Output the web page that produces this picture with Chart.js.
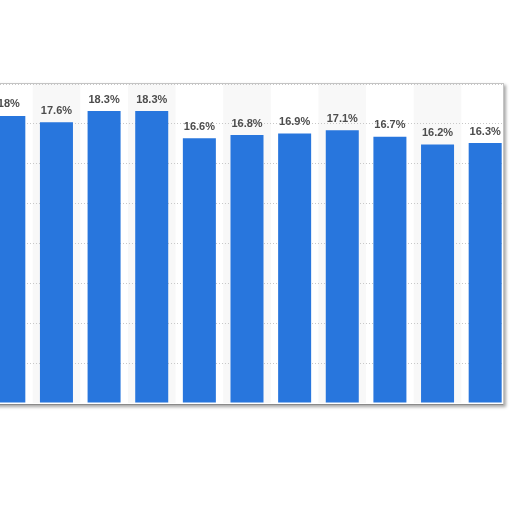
<!DOCTYPE html>
<html>
<head>
<meta charset="utf-8">
<script src="https://cdn.jsdelivr.net/npm/chart.js@4/dist/chart.umd.min.js"></script>
<style>
  html, body { margin: 0; padding: 0; background: #fff; width: 512px; height: 512px; overflow: hidden; }
  #frame {
    position: absolute; left: -20px; top: 83px; width: 524px; height: 322px;
    box-sizing: border-box; border: 1px solid #c4c4c4; border-bottom-color: #8a8a8a;
    box-shadow: 2px 2px 3px rgba(0,0,0,0.35); overflow: hidden; background: #fff;
  }
  #wrap { position: absolute; left: 4px; top: 0px; width: 524px; height: 319px; }
</style>
</head>
<body>
<div id="frame"><div id="wrap"><canvas id="shareChart"></canvas></div></div>
<script>
// categories are not shown in the crop; placeholders keep the order
const categories = ['c1', 'c2', 'c3', 'c4', 'c5', 'c6', 'c7', 'c8', 'c9', 'c10', 'c11'];
const shareValues = [18, 17.6, 18.3, 18.3, 16.6, 16.8, 16.9, 17.1, 16.7, 16.2, 16.3];

const stripes = {
  id: 'stripes',
  beforeDraw(chart) {
    const { ctx, chartArea, scales } = chart;
    const band = chartArea.width / categories.length;
    ctx.save();
    ctx.fillStyle = '#f8f8f8';
    categories.forEach((c, i) => {
      if (i % 2 === 1) {
        const x = scales.x.getPixelForValue(i);
        ctx.fillRect(x - band / 2, chartArea.top, band, chartArea.height);
      }
    });
    ctx.restore();
  }
};

const valueLabels = {
  id: 'valueLabels',
  afterDatasetsDraw(chart) {
    const { ctx } = chart;
    const meta = chart.getDatasetMeta(0);
    ctx.save();
    ctx.font = 'bold 11px "Liberation Sans", Arial, sans-serif';
    ctx.fillStyle = '#4d4d4d';
    ctx.textAlign = 'center';
    ctx.textBaseline = 'bottom';
    meta.data.forEach((bar, i) => {
      ctx.fillText(shareValues[i] + '%', bar.x, bar.y - 6);
    });
    ctx.restore();
  }
};

document.addEventListener('DOMContentLoaded', () => {
  const ctx = document.getElementById('shareChart').getContext('2d');
  new Chart(ctx, {
    type: 'bar',
    data: {
      labels: categories,
      datasets: [{
        data: shareValues,
        backgroundColor: '#2876dd',
        barPercentage: 0.693,
        categoryPercentage: 1
      }]
    },
    options: {
      responsive: true,
      maintainAspectRatio: false,
      animation: false,
      layout: { padding: 0 },
      plugins: { legend: { display: false }, tooltip: { enabled: false } },
      scales: {
        x: { display: false },
        y: {
          min: 0,
          max: 20,
          ticks: { display: false, stepSize: 2.5 },
          border: { display: false, dash: [1, 2] },
          grid: { color: '#c8c8c8', lineWidth: 1, drawTicks: false, tickLength: 0 }
        }
      }
    },
    plugins: [stripes, valueLabels]
  });
});
</script>
</body>
</html>
